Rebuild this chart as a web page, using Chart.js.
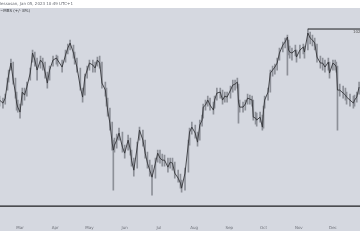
<!DOCTYPE html>
<html>
<head>
<meta charset="utf-8">
<script src="https://cdn.jsdelivr.net/npm/chart.js@4/dist/chart.umd.min.js"></script>
<style>
html,body{margin:0;padding:0;background:#ffffff;}
#c{display:block;}
</style>
</head>
<body>
<canvas id="c" width="360" height="240"></canvas>
<script>
// Day of year (2022, 0-based) of each sampled session
const days = [41,44,46,48,49,51,53,55,56,57,59,61,63,65,68,70,72,74,77,79,81,83,85,88,91,92,96,99,101,103,106,107,109,112,114,116,118,120,123,125,127,129,131,134,135,136,138,140,141,142,144,146,149,151,154,156,157,159,162,164,167,169,171,173,175,178,180,182,184,186,189,191,193,195,198,200,201,204,207,208,210,213,215,217,219,220,222,224,226,229,230,232,235,237,239,241,244,246,248,250,251,252,255,257,259,261,263,264,266,267,270,272,273,274,277,279,281,283,285,287,290,292,294,295,296,298,301,302,305,308,309,312,314,316,318,320,323,325,327,330,331,334,336,337,338,340,343,345,346,349,352,353,355,357];
const closes = [95.4,95.1,95.6,97.2,97.9,99.1,97.4,96.1,95.1,94.7,94.2,96.2,95.9,96.7,98.1,100.1,99.4,98.4,99.4,99.1,98.2,97.1,98.4,99.4,99.6,99.4,98.7,99.9,100.6,101.1,100.1,99.6,98.7,96.7,95.7,97.7,98.4,99.1,98.9,98.6,99.4,99.1,97.1,96.4,95.4,94.4,93.1,91.1,90.4,90.9,91.4,92.1,90.7,90.1,91.4,90.4,89.4,88.4,90.7,92.4,91.4,90.1,89.1,88.4,87.7,89.1,90.1,89.6,89.4,89.4,88.7,89.2,89.1,88.1,87.6,87.1,86.6,88.1,91.1,92.2,92.7,92.1,91.2,92.9,93.4,94.7,94.9,95.4,94.9,94.4,95.4,96.1,96.2,95.4,95.8,95.7,96.4,96.9,97.0,97.2,95.2,94.7,94.7,95.0,95.6,95.5,95.4,93.7,93.6,93.4,93.7,92.7,94.4,95.4,96.2,98.1,98.4,98.7,99.1,100.1,100.9,101.2,101.7,100.4,100.2,100.1,100.4,99.7,100.4,100.7,100.2,102.1,101.6,101.4,101.1,99.7,99.1,99.1,98.7,99.2,98.1,99.1,98.9,98.7,96.4,96.4,96.1,95.9,95.7,95.4,95.1,95.4,95.7,96.7];
const highs = [95.8,95.6,96.0,97.6,98.4,99.5,99.2,97.6,96.2,95.4,95.0,96.6,96.6,97.2,98.6,100.4,100.2,99.6,99.8,99.6,99.2,98.2,98.8,99.8,99.9,99.8,99.4,100.4,101.0,101.4,100.9,100.2,99.6,98.6,96.6,98.0,98.8,99.4,99.4,99.2,99.7,99.8,99.2,97.2,96.6,95.6,94.6,93.2,91.4,91.6,92.0,92.6,92.2,90.9,91.9,91.6,90.4,89.6,91.2,92.7,92.4,91.4,90.2,89.4,88.9,89.6,90.4,90.4,90.0,89.9,89.6,89.6,89.6,89.2,88.4,88.0,87.4,88.6,91.4,92.6,93.2,92.9,92.2,93.4,93.9,95.0,95.4,95.8,95.6,95.2,95.8,96.6,96.6,96.4,96.2,96.2,96.8,97.4,97.4,97.6,97.0,95.4,95.2,95.4,96.0,95.9,95.8,95.4,94.2,94.1,94.2,93.9,94.8,95.8,96.6,98.4,98.8,99.0,99.6,100.6,101.2,101.6,101.9,101.4,100.8,100.6,100.9,100.4,100.9,101.0,100.8,102.5,102.2,101.9,101.6,101.0,99.8,99.6,99.4,99.6,99.2,99.4,99.4,99.2,98.8,97.0,96.8,96.6,96.2,96.0,95.8,95.9,96.2,97.2];
const lows = [94.8,94.6,95.0,96.4,97.2,98.4,97.0,95.6,94.4,94.2,93.6,94.9,95.4,95.8,97.4,99.2,98.8,97.4,98.6,98.4,97.6,96.6,97.4,98.8,99.0,98.8,98.2,99.2,100.0,100.4,99.6,99.0,98.2,96.4,95.2,95.9,97.6,98.4,98.2,98.2,98.8,98.6,96.6,95.8,94.8,93.8,92.4,90.4,86.4,90.2,90.6,91.4,90.2,89.6,90.4,89.9,88.8,87.8,88.6,91.4,90.8,89.6,88.6,87.8,85.9,87.6,89.2,89.1,88.8,88.8,88.2,88.6,88.4,87.6,87.2,86.6,86.2,86.4,88.2,90.9,92.0,91.6,90.8,91.4,92.8,93.6,94.4,94.8,94.4,94.0,94.6,95.4,95.6,95.0,95.2,95.2,95.6,96.2,96.4,96.6,93.1,94.2,94.2,94.4,95.0,95.0,94.8,93.4,93.0,92.8,93.2,92.4,92.6,94.6,95.4,96.2,97.8,98.0,98.4,99.4,100.2,100.6,97.9,99.9,99.6,99.4,99.8,99.2,99.6,100.0,99.6,100.4,101.0,100.8,100.4,99.2,98.6,98.4,98.2,98.4,97.6,98.4,98.4,98.2,92.4,95.8,95.6,95.4,95.0,94.8,94.6,94.8,95.2,96.0];
const monthStarts = [59,90,120,151,181,212,243,273,304,334];
const monthNames = ['Mar','Apr','May','Jun','Jul','Aug','Sep','Oct','Nov','Dec'];
const highLevel = 102.5;
const highLevelFrom = 312;
const lowLevel = 84.8;
const headerText = 'lessosan, Jan 05, 2023 10:49 UTC+1';
const symbolText = '~MBS (+/- 8%)';
const priceLabel = '102.50';

const X_MIN = 41.4, X_MAX = 357.8;

const bgPlugin = {
  id: 'bg',
  beforeDraw(chart) {
    const ctx = chart.ctx;
    ctx.save();
    ctx.fillStyle = '#ffffff';
    ctx.fillRect(0, 0, chart.width, chart.height);
    ctx.fillStyle = '#d5d8e0';
    ctx.fillRect(0, 8, chart.width, 223);
    ctx.restore();
  },
  afterDraw(chart) {
    const ctx = chart.ctx;
    ctx.save();
    ctx.textBaseline = 'middle';
    ctx.font = '4px "DejaVu Sans", sans-serif';
    ctx.fillStyle = '#666a72';
    ctx.textAlign = 'left';
    ctx.fillText(headerText, 0, 3.5);
    ctx.fillStyle = '#3a3c40';
    ctx.fillText(symbolText, 0, 10.5);
    const y = chart.scales.y.getPixelForValue(highLevel);
    ctx.fillStyle = '#555';
    ctx.fillText(priceLabel, 353, y + 3);
    ctx.restore();
  }
};

new Chart(document.getElementById('c'), {
  type: 'bar',
  data: {
    datasets: [
      {
        type: 'line',
        data: [{x: X_MIN, y: lowLevel}, {x: X_MAX, y: lowLevel}],
        borderColor: '#1e1f22',
        borderWidth: 1.3,
        pointRadius: 0,
        order: 1
      },
      {
        type: 'line',
        data: [{x: highLevelFrom, y: highLevel}, {x: X_MAX, y: highLevel}],
        borderColor: '#1e1f22',
        borderWidth: 1,
        pointRadius: 0,
        order: 1
      },
      {
        type: 'line',
        data: days.map((d, i) => ({x: d, y: closes[i]})),
        borderColor: '#34363a',
        borderWidth: 0.9,
        pointRadius: 0,
        tension: 0,
        order: 2
      },
      {
        type: 'bar',
        data: days.map((d, i) => ({x: d, y: [lows[i], highs[i]]})),
        backgroundColor: '#8d9098',
        borderWidth: 0,
        barThickness: 1,
        grouped: false,
        order: 3
      }
    ]
  },
  options: {
    responsive: false,
    devicePixelRatio: 1,
    animation: false,
    layout: {padding: {top: 8, bottom: 7, left: 0, right: 0}},
    plugins: {legend: {display: false}, tooltip: {enabled: false}},
    scales: {
      x: {
        type: 'linear',
        min: X_MIN,
        max: X_MAX,
        offset: false,
        grid: {display: false, drawTicks: false},
        border: {display: false},
        afterBuildTicks(scale) {
          scale.ticks = monthStarts.map(v => ({value: v}));
        },
        ticks: {
          autoSkip: false,
          maxRotation: 0,
          padding: 3,
          font: {size: 4, family: 'DejaVu Sans'},
          color: '#6d7078',
          callback(value) {
            const i = monthStarts.indexOf(value);
            return i >= 0 ? monthNames[i] : '';
          }
        }
      },
      y: {
        display: false,
        min: 83.2,
        max: 104.6
      }
    }
  },
  plugins: [bgPlugin]
});
</script>
</body>
</html>
